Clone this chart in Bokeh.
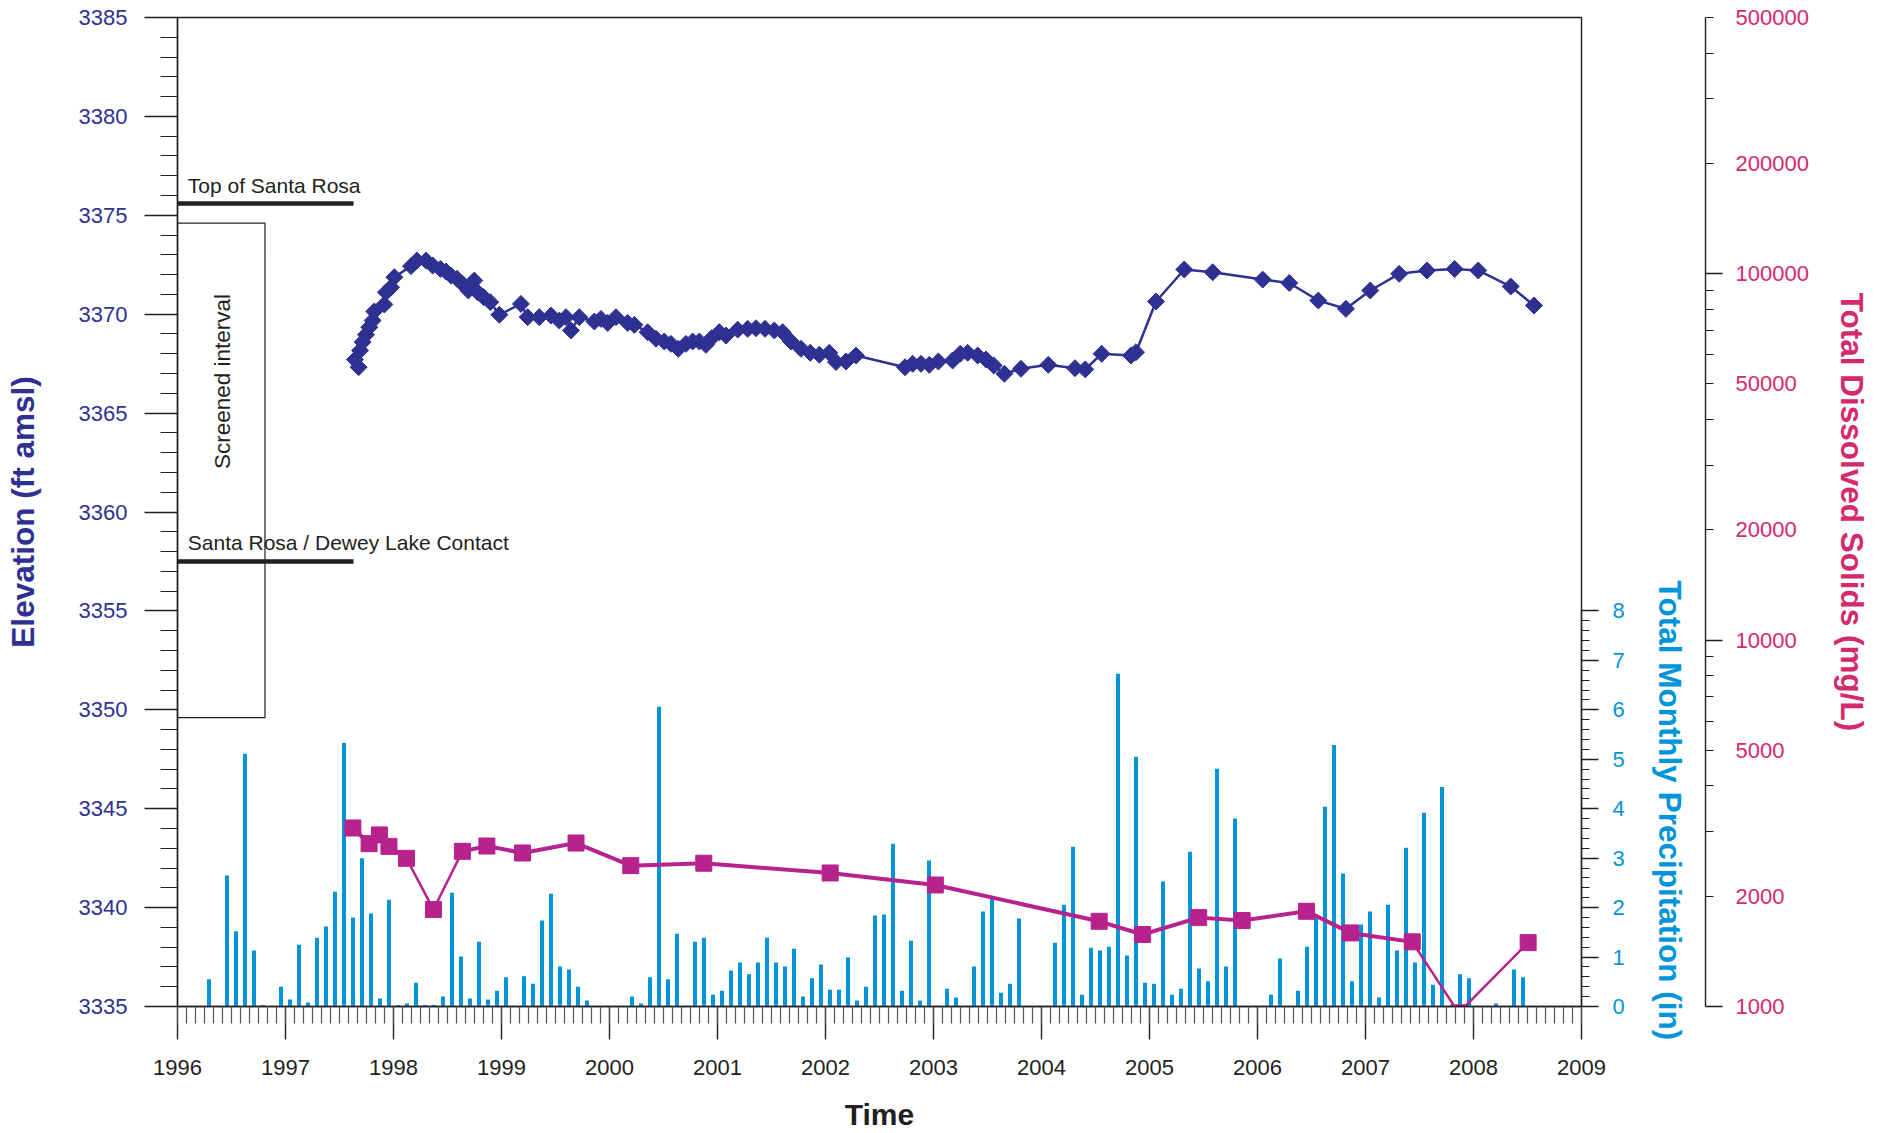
import numpy as np
from bokeh.plotting import figure
from bokeh.models import (Range1d, LinearAxis, LogAxis, FixedTicker, LogScale,
                          NumeralTickFormatter, Title)
from bokeh.core.properties import value
from bokeh.embed import file_html
from bokeh.resources import INLINE

# ---------------- data ----------------
years = list(range(1996, 2010))

# Water-level elevation (ft amsl)
elev_time = [1997.643, 1997.677, 1997.690, 1997.714, 1997.745, 1997.776, 1997.807, 1997.822,
             1997.915, 1997.930, 1997.977, 1998.008, 1998.162, 1998.217, 1998.301, 1998.363,
             1998.434, 1998.486, 1998.532, 1998.588, 1998.640, 1998.693, 1998.748, 1998.779,
             1998.835, 1998.896, 1998.980, 1999.180, 1999.242, 1999.350, 1999.458, 1999.535,
             1999.597, 1999.643, 1999.720, 1999.860, 1999.921, 1999.983, 2000.060, 2000.168,
             2000.230, 2000.353, 2000.430, 2000.507, 2000.569, 2000.637, 2000.708, 2000.770,
             2000.832, 2000.893, 2000.946, 2001.017, 2001.079, 2001.187, 2001.279, 2001.356,
             2001.440, 2001.526, 2001.603, 2001.680, 2001.773, 2001.859, 2001.943, 2002.035,
             2002.097, 2002.190, 2002.282, 2002.736, 2002.807, 2002.884, 2002.961, 2003.045,
             2003.177, 2003.248, 2003.316, 2003.409, 2003.486, 2003.557, 2003.656, 2003.810,
             2004.063, 2004.310, 2004.405, 2004.557, 2004.829, 2004.875, 2005.060, 2005.322,
             2005.585, 2006.048, 2006.294, 2006.563, 2006.819, 2007.044, 2007.312, 2007.569,
             2007.825, 2008.044, 2008.345, 2008.560]
elev_value = [3367.71, 3367.32, 3368.16, 3368.59, 3368.96, 3369.34, 3369.68, 3370.14,
              3370.49, 3371.11, 3371.36, 3371.87, 3372.43, 3372.71, 3372.71, 3372.46,
              3372.29, 3372.16, 3371.95, 3371.79, 3371.53, 3371.20, 3371.70, 3371.11,
              3370.86, 3370.61, 3369.97, 3370.52, 3369.85, 3369.85, 3369.93, 3369.68,
              3369.85, 3369.18, 3369.85, 3369.63, 3369.76, 3369.56, 3369.85, 3369.56,
              3369.46, 3369.09, 3368.76, 3368.62, 3368.50, 3368.25, 3368.50, 3368.62,
              3368.62, 3368.45, 3368.79, 3369.09, 3368.92, 3369.22, 3369.26, 3369.29,
              3369.26, 3369.18, 3369.09, 3368.62, 3368.25, 3368.05, 3367.95, 3368.05,
              3367.58, 3367.61, 3367.91, 3367.32, 3367.49, 3367.49, 3367.44, 3367.61,
              3367.66, 3368.00, 3368.05, 3367.91, 3367.71, 3367.41, 3366.99, 3367.24,
              3367.44, 3367.27, 3367.21, 3368.00, 3367.91, 3368.08, 3370.64, 3372.26,
              3372.12, 3371.75, 3371.58, 3370.69, 3370.27, 3371.20, 3372.04, 3372.21,
              3372.29, 3372.21, 3371.40, 3370.44]

# Total dissolved solids (mg/L)
tds_time = [1997.624, 1997.774, 1997.870, 1997.958, 1998.120, 1998.370, 1998.638, 1998.865,
            1999.195, 1999.690, 2000.197, 2000.873, 2002.043, 2003.017, 2004.534, 2004.936,
            2005.456, 2005.858, 2006.454, 2006.861, 2007.433, 2007.863, 2008.506]
tds_value = [3070, 2782, 2939, 2735, 2537, 1839, 2651, 2741, 2624, 2793, 2423, 2460,
             2314, 2146, 1708, 1572, 1748, 1716, 1819, 1588, 1501, 961, 1494]

# Total monthly precipitation (in), Jan 1996 .. Dec 2008
precip_1996 = [0, 0, 0, 0.55, 0, 2.65, 1.52, 5.11, 1.13, 0.03, 0, 0.40]
precip_1997 = [0.14, 1.25, 0.08, 1.39, 1.62, 2.32, 5.33, 1.80, 3.00, 1.88, 0.16, 2.16]
precip_1998 = [0.03, 0.06, 0.48, 0.03, 0.03, 0.20, 2.30, 1.01, 0.16, 1.31, 0.14, 0.32]
precip_1999 = [0.59, 0, 0.61, 0.46, 1.74, 2.28, 0.81, 0.75, 0.40, 0.12, 0, 0]
precip_2000 = [0, 0, 0.20, 0.06, 0.59, 6.06, 0.55, 1.47, 0, 1.31, 1.39, 0.24]
precip_2001 = [0.32, 0.73, 0.89, 0.65, 0.89, 1.39, 0.89, 0.81, 1.17, 0.20, 0.57, 0.85]
precip_2002 = [0.34, 0.34, 0.99, 0.12, 0.40, 1.84, 1.86, 3.29, 0.32, 1.33, 0.12, 2.95]
precip_2003 = [0, 0.36, 0.18, 0, 0.81, 1.92, 2.18, 0.28, 0.46, 1.78, 0, 0]
precip_2004 = [0, 1.29, 2.06, 3.23, 0.24, 1.19, 1.13, 1.21, 6.73, 1.03, 5.05, 0.48]
precip_2005 = [0.46, 2.53, 0.24, 0.36, 3.13, 0.77, 0.51, 4.81, 0.81, 3.80, 0, 0]
precip_2006 = [0, 0.24, 0.97, 0, 0.32, 1.21, 1.86, 4.04, 5.29, 2.69, 0.51, 1.66]
precip_2007 = [1.92, 0.18, 2.06, 1.13, 3.21, 0.89, 3.92, 0.44, 4.44, 0, 0.65, 0.57]
precip_2008 = [0, 0, 0.06, 0, 0.75, 0.59, 0, 0, 0, 0, 0, 0]

# Geology (ft amsl)
top_santa_rosa = 3375.6
contact_dewey_lake = 3357.5
screen_top = 3374.6
screen_bottom = 3349.6

elev_ticks = list(range(3335, 3386, 5))
precip_ticks = list(range(0, 9))
tds_labels = [1000, 2000, 5000, 10000, 20000, 50000, 100000, 200000, 500000]
tds_decades = [1000, 10000, 100000]

# ---------------- style ----------------
FONT = "Liberation Sans"
NAVY = "#2E3192"
BLUE = "#0095DA"
MAG = "#B8228C"
PINK = "#D4296F"
INK = "#231F20"
TITLE_SIZE = "31.5px"

precip = (precip_1996 + precip_1997 + precip_1998 + precip_1999 + precip_2000 + precip_2001 +
          precip_2002 + precip_2003 + precip_2004 + precip_2005 + precip_2006 + precip_2007 +
          precip_2008)
month_centers = [1996 + (i + 0.5) / 12 for i in range(len(precip))]
month_ticks = [1996 + i / 12 for i in range(13 * 12 + 1)]

p = figure(width=1876, height=1133, x_range=Range1d(1996, 2009), y_range=Range1d(3335, 3385),
           output_backend="svg", toolbar_location=None,
           min_border_left=177, min_border_right=295, min_border_top=17, min_border_bottom=126)
p.xgrid.visible = False
p.ygrid.visible = False
p.outline_line_color = INK
p.outline_line_width = 1.4
p.background_fill_color = "white"
p.border_fill_color = "white"

p.extra_y_ranges = {"precip": Range1d(0, 20), "tds": Range1d(1000, 500000)}
p.extra_y_scales = {"tds": LogScale()}

# x axis
xa = p.xaxis[0]
xa.ticker = FixedTicker(ticks=years, minor_ticks=month_ticks)
xa.major_tick_out = 33
xa.major_tick_in = 0
xa.minor_tick_out = 17
xa.minor_tick_in = 0
xa.axis_line_color = INK
xa.axis_line_width = 1.4
xa.major_tick_line_color = INK
xa.major_tick_line_width = 1.4
xa.minor_tick_line_color = "#555555"
xa.minor_tick_line_width = 1.2
xa.major_label_text_font = FONT
xa.major_label_text_font_size = "22px"
xa.major_label_text_color = INK
xa.major_label_standoff = 20
xa.axis_label = "Time"
xa.axis_label_text_font = FONT
xa.axis_label_text_font_size = "30px"
xa.axis_label_text_font_style = "bold"
xa.axis_label_text_color = INK
xa.axis_label_standoff = 20

# left elevation axis
ya = p.yaxis[0]
ya.ticker = FixedTicker(ticks=elev_ticks, minor_ticks=list(range(3335, 3386)))
ya.major_tick_out = 33
ya.major_tick_in = 0
ya.minor_tick_out = 17
ya.minor_tick_in = 0
ya.axis_line_color = INK
ya.axis_line_width = 1.4
ya.major_tick_line_color = INK
ya.major_tick_line_width = 1.4
ya.minor_tick_line_color = INK
ya.minor_tick_line_width = 1.2
ya.major_label_text_font = FONT
ya.major_label_text_font_size = "22px"
ya.major_label_text_color = NAVY
ya.major_label_standoff = 17
ya.axis_label = "Elevation (ft amsl)"
ya.axis_label_text_font = FONT
ya.axis_label_text_font_size = TITLE_SIZE
ya.axis_label_text_font_style = "bold"
ya.axis_label_text_color = NAVY
ya.axis_label_standoff = 35

# precipitation axis (right, next to frame)
pa = LinearAxis(y_range_name="precip",
                ticker=FixedTicker(ticks=precip_ticks, minor_ticks=[i * 0.2 for i in range(41)]),
                bounds=(0, 8))
pa.major_tick_out = 17
pa.major_tick_in = 0
pa.minor_tick_out = 8
pa.minor_tick_in = 0
pa.axis_line_color = INK
pa.axis_line_width = 1.4
pa.major_tick_line_color = INK
pa.major_tick_line_width = 1.4
pa.minor_tick_line_color = INK
pa.minor_tick_line_width = 1.2
pa.major_label_text_font = FONT
pa.major_label_text_font_size = "22px"
pa.major_label_text_color = BLUE
pa.major_label_standoff = 14
pa.axis_label = " "
pa.axis_label_text_font_size = "1px"
pa.axis_label_standoff = 2
p.add_layout(pa, "right")

# precipitation title, placed along the 0-8 in part of its axis
p.add_layout(Title(text="Total Monthly Precipitation (in)", align="left", offset=563,
                   vertical_align="middle", standoff=34, text_font=FONT,
                   text_font_size=TITLE_SIZE, text_font_style="bold", text_color=BLUE),
             "right")

# TDS tick axis (log)
tds_minor = ([k * 1000 for k in range(2, 10)] + [k * 10000 for k in range(2, 10)] +
             [k * 100000 for k in range(2, 6)])
ta = LogAxis(y_range_name="tds", ticker=FixedTicker(ticks=tds_decades, minor_ticks=tds_minor))
ta.major_tick_out = 17
ta.major_tick_in = 0
ta.minor_tick_out = 8
ta.minor_tick_in = 0
ta.axis_line_color = INK
ta.axis_line_width = 1.4
ta.major_tick_line_color = INK
ta.major_tick_line_width = 1.4
ta.minor_tick_line_color = INK
ta.minor_tick_line_width = 1.2
ta.major_label_standoff = 0
ta.major_label_text_font_size = "0px"
ta.major_label_overrides = {1000: "", 10000: "", 100000: ""}
p.add_layout(ta, "right")

# TDS label axis
tl = LogAxis(y_range_name="tds", ticker=FixedTicker(ticks=tds_labels),
             formatter=NumeralTickFormatter(format="0"))
tl.major_tick_out = 0
tl.major_tick_in = 0
tl.minor_tick_out = 0
tl.minor_tick_in = 0
tl.major_tick_line_color = None
tl.minor_tick_line_color = None
tl.axis_line_color = None
tl.major_label_text_font = FONT
tl.major_label_text_font_size = "22px"
tl.major_label_text_color = PINK
tl.major_label_standoff = 13
tl.axis_label = "Total Dissolved Solids (mg/L)"
tl.axis_label_text_font = FONT
tl.axis_label_text_font_size = TITLE_SIZE
tl.axis_label_text_font_style = "bold"
tl.axis_label_text_color = PINK
tl.axis_label_standoff = 22
p.add_layout(tl, "right")

# ---------------- glyphs ----------------
p.vbar(x=month_centers, top=precip, bottom=0, width=0.037, y_range_name="precip",
       fill_color=BLUE, line_color=None)

seg_w = [4.0] * (len(tds_time) - 1)
for i in (4, 5, 20, 21):
    seg_w[i] = 2.5
p.segment(x0=tds_time[:-1], y0=tds_value[:-1], x1=tds_time[1:], y1=tds_value[1:],
          line_width=seg_w, line_color=MAG, line_cap="round", y_range_name="tds")
p.scatter(tds_time, tds_value, marker="square", size=16, color=MAG, y_range_name="tds")

p.line(elev_time, elev_value, line_color=NAVY, line_width=2.5)
p.scatter(elev_time, elev_value, marker="square", angle=np.pi / 4, size=12, color=NAVY)

# geology annotations
p.segment(x0=[1996.0, 1996.0], x1=[1997.63, 1997.63],
          y0=[top_santa_rosa, contact_dewey_lake], y1=[top_santa_rosa, contact_dewey_lake],
          line_width=4.5, line_color=INK)
p.quad(left=[1996.0], right=[1996.81], bottom=[screen_bottom], top=[screen_top],
       fill_color=None, line_color=INK, line_width=1.2)
p.text(x=[1996.095, 1996.095], y=[top_santa_rosa + 0.93, contact_dewey_lake + 0.97],
       text=["Top of Santa Rosa", "Santa Rosa / Dewey Lake Contact"],
       text_font=value(FONT), text_font_size="21px", text_color=INK,
       text_baseline="middle", text_align="left")
p.text(x=[1996.42], y=[(screen_top + screen_bottom) / 2 + 4.5], text=["Screened interval"],
       text_font=value(FONT), text_font_size="22.5px", text_color=INK, angle=np.pi / 2,
       text_align="center", text_baseline="middle")

open("out.html", "w").write(file_html(p, INLINE))
